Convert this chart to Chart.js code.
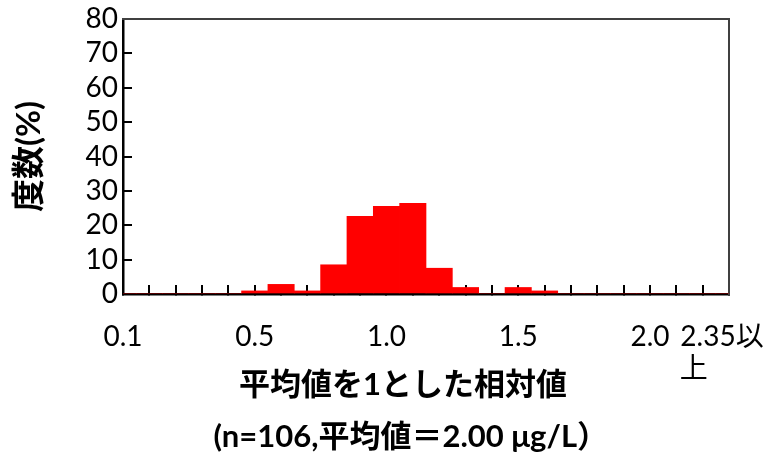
<!DOCTYPE html>
<html>
<head>
<meta charset="utf-8">
<script src="https://cdn.jsdelivr.net/npm/chart.js@4"></script>
<style>
  html, body { margin: 0; padding: 0; background: #fff; }
</style>
</head>
<body>
<canvas id="histChart" width="769" height="458"></canvas>
<script>
// bins (relative value, mean = 1)
const categories = ['<0.1', '0.1', '0.2', '0.3', '0.4', '0.5', '0.6', '0.7', '0.8', '0.9', '1.0', '1.1',
  '1.2', '1.3', '1.4', '1.5', '1.6', '1.7', '1.8', '1.9', '2.0', '2.1', '2.2', '2.35以上'];
// frequency (%) , n = 106
const frequency = [0, 0, 0, 0, 0, 0.9, 2.8, 0.9, 8.5, 22.6, 25.5, 26.4,
  7.5, 1.9, 0, 1.9, 0.9, 0, 0, 0, 0, 0, 0, 0];
// labels shown under the axis
const tickLabels = ['0.1', '', '', '', '', '0.5', '', '', '', '', '1.0', '',
  '', '', '', '1.5', '', '', '', '', '2.0', '', '', ['2.35以\u2002', '上\u3000\u3000  ']];
const yTicks = [0, 10, 20, 30, 40, 50, 60, 70, 80];

const fontFamily = 'Lato, "Noto Sans CJK JP", sans-serif';
const ctx = document.getElementById('histChart').getContext('2d');

// plain frame line for top / right side of the plot
const frameAxis = (position) => ({
  type: 'linear',
  position: position,
  grid: { display: false, drawTicks: false },
  ticks: { display: false },
  border: { display: true, color: '#404040', width: 2 }
});

new Chart(ctx, {
  type: 'bar',
  data: {
    labels: categories,
    datasets: [{
      data: frequency,
      backgroundColor: '#ff0000',
      borderWidth: 0,
      barPercentage: 1,
      categoryPercentage: 1
    }]
  },
  options: {
    responsive: false,
    animation: false,
    layout: { padding: { left: 0, top: 19, right: 40, bottom: 0 } },
    plugins: {
      legend: { display: false },
      tooltip: { enabled: false }
    },
    scales: {
      x: {
        offset: false,
        z: 1,
        grid: {
          offset: false,
          drawOnChartArea: false,
          tickLength: -9,
          color: '#000',
          lineWidth: 2
        },
        border: { color: '#000', width: 2.5 },
        ticks: {
          autoSkip: false,
          maxRotation: 0,
          padding: 36,
          color: '#000',
          font: { family: fontFamily, size: 28, lineHeight: 1.15 },
          callback: (v, i) => tickLabels[i]
        },
        title: {
          display: true,
          text: ['平均値を1とした相対値\u3000  ', '(n=106,平均値＝2.00 μg/L）\u3000  '],
          color: '#000',
          font: { family: fontFamily, size: 31, weight: 'bold', lineHeight: 1.68 },
          padding: { top: 0, bottom: -5 }
        },
        afterFit: (scale) => {
          scale.height = 164;
          scale.paddingLeft = 0;
          scale.paddingRight = 0;
        }
      },
      y: {
        min: 0,
        max: 80,
        z: 1,
        grid: {
          drawOnChartArea: false,
          tickLength: -9,
          color: '#000',
          lineWidth: 2
        },
        border: { color: '#000', width: 2.5 },
        ticks: {
          autoSkip: false,
          stepSize: 10,
          padding: 14,
          color: '#000',
          font: { family: fontFamily, size: 28 }
        },
        afterBuildTicks: (scale) => {
          scale.ticks = yTicks.map(v => ({ value: v }));
        },
        title: {
          display: true,
          text: '度数(%)',
          color: '#000',
          font: { family: fontFamily, size: 33, weight: 'bold' },
          padding: { top: 10, bottom: 0 }
        },
        afterFit: (scale) => {
          scale.width = 123;
          scale.paddingTop = 0;
          scale.paddingBottom = 0;
        }
      },
      xTop: frameAxis('top'),
      yRight: frameAxis('right')
    }
  }
});
</script>
</body>
</html>
